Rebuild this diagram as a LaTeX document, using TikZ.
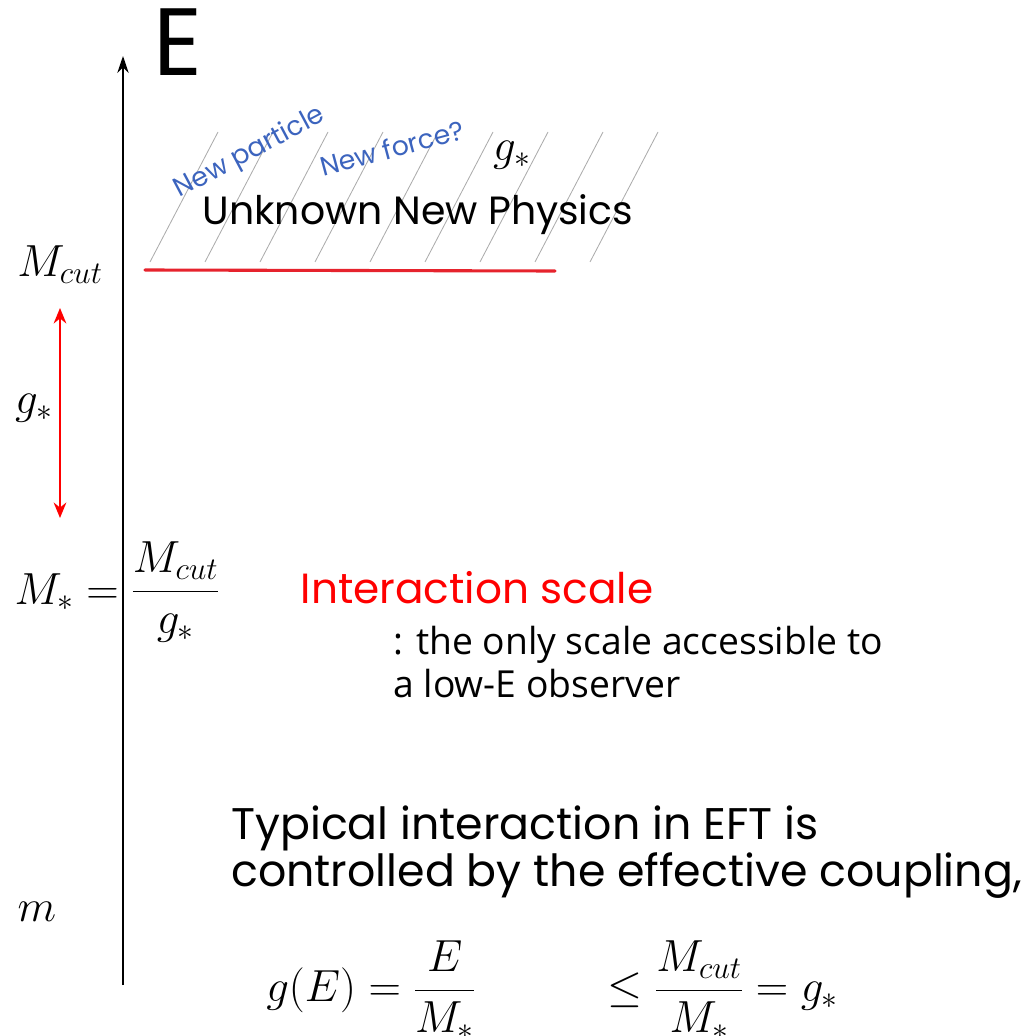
\RequirePackage{fix-cm}
\documentclass[tikz,border=0pt]{standalone}
\usepackage{fontspec}
\usepackage{tikz}
\usetikzlibrary{arrows.meta, positioning}
\newfontfamily\handfont{Poppins}
\newfontfamily\plainfont{Open Sans}
\definecolor{noteBlue}{RGB}{60, 100, 190}
\definecolor{cutRed}{RGB}{230, 35, 45}
\definecolor{scaleRed}{RGB}{255, 0, 0}

\tikzset{
  axis/.style={line width=1.6pt, -{Stealth[length=12pt, width=8pt]}},
  twoway/.style={scaleRed, line width=1.5pt, {Stealth[length=11pt, width=9pt]}-{Stealth[length=11pt, width=9pt]}},
  hatch/.style={gray!65, line width=0.6pt},
  cutline/.style={cutRed, line width=2.2pt, line cap=round},
  mathlbl/.style={inner sep=0pt, font=\fontsize{32}{38}\selectfont},
  handlbl/.style={inner sep=0pt, font=\handfont\fontsize{28}{32}\selectfont},
  notelbl/.style={inner sep=0pt, text=noteBlue, font=\handfont\fontsize{19}{22}\selectfont},
  plainlbl/.style={inner sep=0pt, align=left, font=\plainfont\fontsize{26.5}{30.5}\selectfont},
}

\begin{document}
\begin{tikzpicture}[x=0.025cm, y=-0.025cm]
  \useasboundingbox (0,0) rectangle (1029,1036);
  % Energy axis
  \coordinate (axbot) at (123,985);
  \coordinate (axtop) at (123,56);
  \draw[axis] (axbot) -- (axtop);
  \node[handlbl, font=\handfont\fontsize{68}{72}\selectfont] (elabel) at (178,42) {E};
  % Hatched region
  \foreach \x in {150,205,...,640}
    \draw[hatch] (\x,262) -- ++(68,-130);
  \coordinate (cutL) at (145,270);
  \coordinate (cutR) at (555,271);
  \draw[cutline] (cutL) -- (cutR);
  \node[handlbl] (unknown) at (418,215) {Unknown New Physics};
  \node[notelbl, rotate=28] (particle) at (250,153) {New particle};
  \node[notelbl, rotate=15] (force) at (392,148) {New force?};
  \node[mathlbl] (gtop) at (512,155) {$g_*$};
  % Scales on the left
  \node[mathlbl] (mcut) at (60,265) {$M_{cut}$};
  \coordinate (arrtop) at (60,308);
  \coordinate (arrbot) at (60,518);
  \draw[twoway] (arrtop) -- (arrbot);
  \node[mathlbl] (gmid) at (34,408) {$g_*$};
  \node[mathlbl, anchor=east] (mstar) at (119,592) {$M_* =$};
  \node[mathlbl, anchor=west] (ratio) at (131,592) {$\displaystyle\frac{M_{cut}}{g_*}$};
  \node[handlbl, text=scaleRed, font=\handfont\fontsize{30}{34}\selectfont] (interaction) at (477,588) {Interaction scale};
  \node[plainlbl, anchor=north west] (access) at (393,626) {: the only scale accessible to\\a low-E observer};
  \node[mathlbl] (mlow) at (37,912) {$m$};
  % Effective coupling
  \node[handlbl, anchor=west, align=left, font=\handfont\fontsize{31.5}{32}\selectfont] (typical) at (231,852) {Typical interaction in EFT is\\controlled by the effective coupling,};
  \node[mathlbl, anchor=west] (geq) at (266,990) {$g(E) = \displaystyle\frac{E}{M_*}$};
  \node[mathlbl, anchor=west] (bound) at (607,990) {$\le \displaystyle\frac{M_{cut}}{M_*} = g_*$};
\end{tikzpicture}
\end{document}
